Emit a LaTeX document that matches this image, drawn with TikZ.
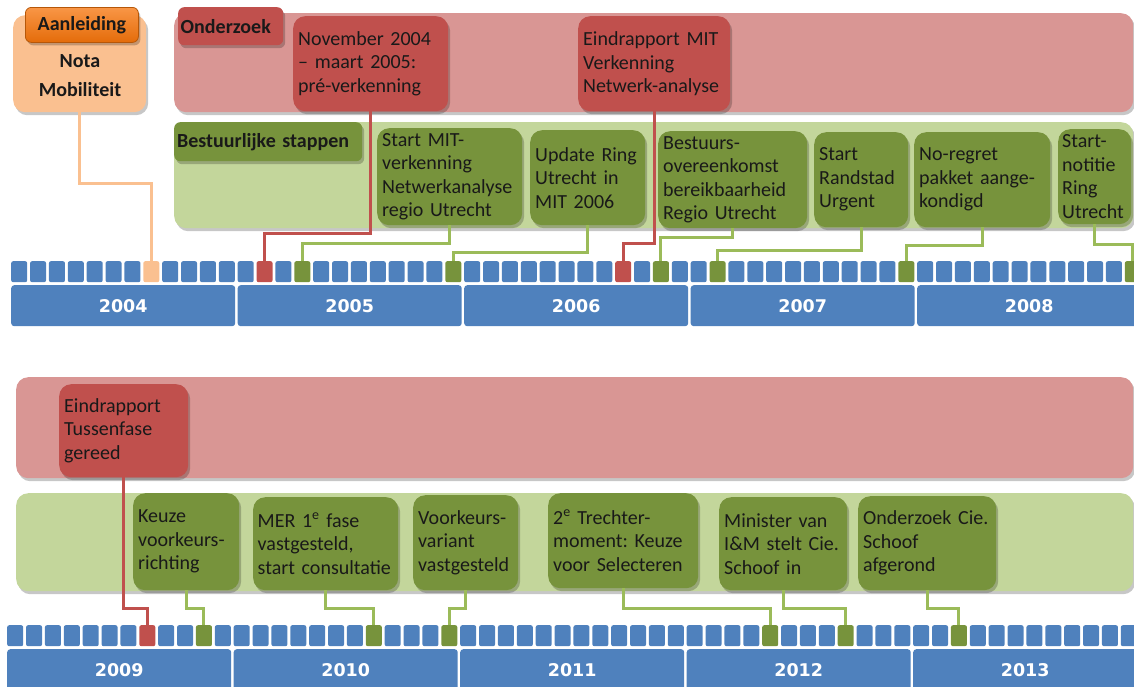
\documentclass[tikz,border=0pt]{standalone}
\usepackage{fontspec}
\setmainfont{Carlito}
\newfontfamily\yearfont{DejaVu Sans}
\usetikzlibrary{shadows}
\frenchspacing
\definecolor{mblue}{RGB}{79,129,189}
\definecolor{bandred}{RGB}{217,150,148}
\definecolor{boxred}{RGB}{192,80,77}
\definecolor{bandgreen}{RGB}{195,214,155}
\definecolor{boxgreen}{RGB}{119,147,60}
\definecolor{linegreen}{RGB}{155,187,89}
\definecolor{lightorange}{RGB}{250,192,144}
\definecolor{orangetop}{RGB}{249,150,70}
\definecolor{orangebot}{RGB}{228,108,10}
\definecolor{orangeedge}{RGB}{182,87,8}
\definecolor{txt}{RGB}{25,25,25}
\tikzset{
  every node/.style={font=\fontsize{20}{23.5}\selectfont, text=txt},
  softshadow/.style={drop shadow={shadow xshift=2pt, shadow yshift=-3pt, opacity=.22, fill=black}},
  band/.style={rectangle, rounded corners=12pt, anchor=north west, inner sep=0pt, softshadow},
  tag/.style={rectangle, rounded corners=6pt, anchor=north west, inner ysep=0pt, align=left,
    font=\bfseries\fontsize{20}{23.5}\selectfont, softshadow},
  evbox/.style n args={3}{minimum width=#1pt, minimum height=#2pt, text width=#3pt},
  event/.style={rectangle, rounded corners=12pt, anchor=north west, inner xsep=5pt, inner ysep=0pt,
    align=left, softshadow},
  rbox/.style={event, fill=boxred},
  gbox/.style={event, fill=boxgreen},
  msq/.style={rectangle, rounded corners=2pt, minimum width=16pt, minimum height=21pt,
    inner sep=0pt, anchor=north west},
  ybar/.style={rectangle, rounded corners=3pt, fill=mblue, minimum width=224pt, minimum height=41pt,
    inner sep=0pt, anchor=north west, text=white, font=\yearfont\bfseries\fontsize{17.5}{20}\selectfont},
  conn/.style={line width=3pt},
  rconn/.style={conn, draw=boxred},
  gconn/.style={conn, draw=linegreen},
  oconn/.style={conn, draw=lightorange},
}
\begin{document}
\begin{tikzpicture}[x=1pt, y=-1pt]
\useasboundingbox (0,0) rectangle (1134,686);
\clip (0,0) rectangle (1134,686);

% ---------- top part ----------
\node[band, fill=bandred, minimum width=959pt, minimum height=99pt] (rbandT) at (174,13) {};
\node[band, fill=bandgreen, minimum width=959pt, minimum height=106pt] (gbandT) at (174,122) {};
\node[tag, fill=boxred, minimum height=38pt, text width=100pt, inner xsep=2.5pt] (onderzoek) at (178,7) {Onderzoek};
\node[tag, fill=boxgreen, minimum height=39pt, text width=182pt, inner xsep=3pt] (bestuur) at (174,122) {Bestuurlijke stappen};

\node[band, fill=lightorange, minimum width=133pt, minimum height=97pt] (nota) at (13,15) {};
\node[align=center, font=\bfseries\fontsize{20}{29}\selectfont, inner sep=0pt] (notatext) at (80,75.5) {Nota\\Mobiliteit};
\node[tag, top color=orangetop, bottom color=orangebot, draw=orangeedge, line width=0.8pt,
  minimum width=113pt, minimum height=35pt, align=center, inner xsep=2pt] (aanleiding) at (25,7) {Aanleiding};

\node[rbox, evbox={155}{95}{145}] (rA) at (293,16) {November 2004\\– maart 2005:\\pré-verkenning};
\node[rbox, evbox={152}{95}{142}] (rB) at (578,16) {Eindrapport MIT\\Verkenning\\Netwerk-analyse};

\node[gbox, evbox={145}{97}{135}] (gA) at (377,128) {Start MIT-\\verkenning\\Netwerkanalyse\\regio Utrecht};
\node[gbox, evbox={115}{95}{105}] (gB) at (530,130) {Update Ring\\Utrecht in\\MIT 2006};
\node[gbox, evbox={149}{97}{139}] (gC) at (658,131) {Bestuurs-\\overeenkomst\\bereikbaarheid\\Regio Utrecht};
\node[gbox, evbox={94}{95}{84}] (gD) at (814,132) {Start\\Randstad\\Urgent};
\node[gbox, evbox={136}{95}{126}] (gE) at (914,132) {No-regret\\pakket aange-\\kondigd};
\node[gbox, evbox={73}{95}{65}, inner xsep=4pt] (gF) at (1058,129) {Start-\\notitie\\Ring\\Utrecht};

% month squares top
\foreach \i in {0,...,59}{
  \def\col{mblue}
  \ifnum\i=7 \def\col{lightorange}\fi
  \ifnum\i=13 \def\col{boxred}\fi
  \ifnum\i=32 \def\col{boxred}\fi
  \ifnum\i=15 \def\col{boxgreen}\fi
  \ifnum\i=23 \def\col{boxgreen}\fi
  \ifnum\i=34 \def\col{boxgreen}\fi
  \ifnum\i=37 \def\col{boxgreen}\fi
  \ifnum\i=47 \def\col{boxgreen}\fi
  \ifnum\i=59 \def\col{boxgreen}\fi
  \node[msq, fill=\col] (t\i) at ({11+\i*18.875},261) {};
}
\foreach \y [count=\k from 0] in {2004,...,2008}{
  \node[ybar] (y\y) at ({11+\k*226.5},285) {\y};
}

% connectors top
\draw[oconn] (nota.south) -- (nota.south |- 0,183) -| (t7.north);
\draw[rconn] (rA.south) -- (rA.south |- 0,233) -| (t13.north);
\draw[rconn] (rB.south) -- (rB.south |- 0,243) -| (t32.north);
\draw[gconn] (gA.south) -- (gA.south |- 0,243) -| (t15.north);
\draw[gconn] (gB.south) -- (gB.south |- 0,252) -| (t23.north);
\draw[gconn] (gC.south) -- (gC.south |- 0,237) -| (t34.north);
\draw[gconn] (gD.south) -- (gD.south |- 0,250) -| (t37.north);
\draw[gconn] (gE.south) -- (gE.south |- 0,245) -| (t47.north);
\draw[gconn] (gF.south) -- (gF.south |- 0,244) -| (t59.north);

% ---------- bottom part ----------
\node[band, fill=bandred, minimum width=1117pt, minimum height=101pt] (rbandB) at (16,377) {};
\node[band, fill=bandgreen, minimum width=1117pt, minimum height=98pt] (gbandB) at (16,493) {};

\node[rbox, evbox={129}{93}{119}] (rC) at (59,384) {Eindrapport\\Tussenfase\\gereed};

\node[gbox, evbox={106}{97}{96}] (hA) at (133,493) {Keuze\\voorkeurs-\\richting};
\node[gbox, evbox={145}{93}{136}, inner xsep=4.5pt] (hB) at (253,497) {MER 1\textsuperscript{e} fase\\vastgesteld,\\start consultatie};
\node[gbox, evbox={105}{95}{95}] (hC) at (413,495) {Voorkeurs-\\variant\\vastgesteld};
\node[gbox, evbox={150}{95}{140}] (hD) at (548,493) {2\textsuperscript{e} Trechter-\\moment: Keuze\\voor Selecteren};
\node[gbox, evbox={128}{93}{118}] (hE) at (719,497) {Minister van\\I\&M stelt Cie.\\Schoof in};
\node[gbox, evbox={138}{94}{128}] (hF) at (858,496) {Onderzoek Cie.\\Schoof\\afgerond};

\foreach \i in {0,...,59}{
  \def\col{mblue}
  \ifnum\i=7 \def\col{boxred}\fi
  \ifnum\i=10 \def\col{boxgreen}\fi
  \ifnum\i=19 \def\col{boxgreen}\fi
  \ifnum\i=23 \def\col{boxgreen}\fi
  \ifnum\i=40 \def\col{boxgreen}\fi
  \ifnum\i=44 \def\col{boxgreen}\fi
  \ifnum\i=50 \def\col{boxgreen}\fi
  \node[msq, fill=\col] (b\i) at ({7+\i*18.875},625) {};
}
\foreach \y [count=\k from 0] in {2009,...,2013}{
  \node[ybar] (y\y) at ({7+\k*226.5},649) {\y};
}

\draw[rconn] (rC.south) -- (rC.south |- 0,608) -| (b7.north);
\draw[gconn] (hA.south) -- (hA.south |- 0,608) -| (b10.north);
\draw[gconn] (hB.south) -- (hB.south |- 0,608) -| (b19.north);
\draw[gconn] (hC.south) -- (hC.south |- 0,608) -| (b23.north);
\draw[gconn] (hD.south) -- (hD.south |- 0,608) -| (b40.north);
\draw[gconn] (hE.south) -- (hE.south |- 0,608) -| (b44.north);
\draw[gconn] (hF.south) -- (hF.south |- 0,608) -| (b50.north);
\end{tikzpicture}
\end{document}
